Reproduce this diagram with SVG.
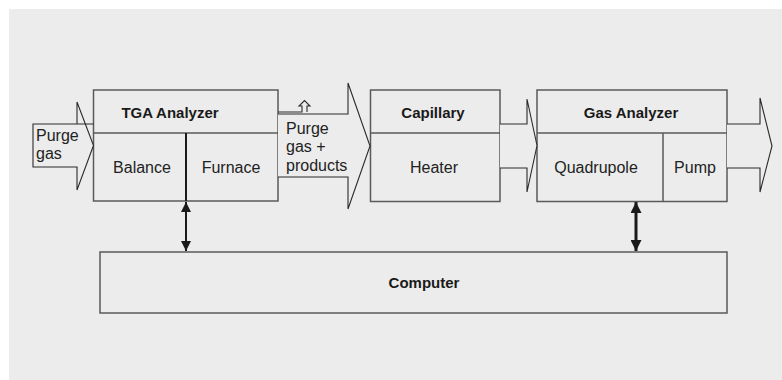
<svg xmlns="http://www.w3.org/2000/svg" width="782" height="380" viewBox="0 0 782 380">
  <defs>
    <style>
      .bg { fill: #ffffff; }
      .panel { fill: #ececec; }
      .box { fill: #ececec; stroke: #5a5a5a; stroke-width: 1.5; }
      .div { stroke: #5a5a5a; stroke-width: 1.5; fill: none; }
      .flow { fill: #ececec; stroke: #2a2a2a; stroke-width: 1.1; stroke-linejoin: miter; }
      .vent { fill: #ececec; stroke: #2a2a2a; stroke-width: 1.1; }
      .link { stroke: #1a1a1a; fill: none; }
      .t { font-family: "Liberation Sans", Arial, sans-serif; font-size: 16px; fill: #222; }
      .b { font-family: "Liberation Sans", Arial, sans-serif; font-size: 15px; font-weight: bold; fill: #1a1a1a; }
      .c { text-anchor: middle; }
    </style>
    <marker id="ah" viewBox="0 0 10 10" refX="10" refY="5" markerWidth="10" markerHeight="10" markerUnits="userSpaceOnUse" orient="auto-start-reverse">
      <path d="M0,0 L10,5 L0,10 Z" fill="#1a1a1a"/>
    </marker>
    <marker id="ah2" viewBox="0 0 10 10" refX="10" refY="5" markerWidth="11" markerHeight="11" markerUnits="userSpaceOnUse" orient="auto-start-reverse">
      <path d="M0,0 L10,5 L0,10 Z" fill="#1a1a1a"/>
    </marker>
  </defs>

  <rect class="bg" x="0" y="0" width="782" height="380"/>
  <rect class="panel" x="9" y="9" width="773" height="371"/>

  <g id="tga">
    <rect class="box" x="93.5" y="90" width="184.5" height="111"/>
    <line class="div" x1="93.5" y1="133" x2="278" y2="133"/>
    <line x1="186" y1="133" x2="186" y2="201" stroke="#1a1a1a" stroke-width="2"/>
    <text class="b c" x="170" y="118">TGA Analyzer</text>
    <text class="t c" x="142" y="173">Balance</text>
    <text class="t c" x="231" y="173">Furnace</text>
  </g>

  <g id="capillary">
    <rect class="box" x="370.5" y="90" width="129.5" height="111.5"/>
    <line class="div" x1="370.5" y1="133" x2="500" y2="133"/>
    <text class="b c" x="433" y="118">Capillary</text>
    <text class="t c" x="434" y="173">Heater</text>
  </g>

  <g id="gas-analyzer">
    <rect class="box" x="537" y="90" width="190" height="111.5"/>
    <line class="div" x1="537" y1="133" x2="727" y2="133"/>
    <line class="div" x1="663" y1="133" x2="663" y2="201.5"/>
    <text class="b c" x="631" y="118">Gas Analyzer</text>
    <text class="t c" x="596" y="173">Quadrupole</text>
    <text class="t c" x="695" y="173">Pump</text>
  </g>

  <g id="computer">
    <rect class="box" x="100" y="252" width="627" height="61"/>
    <text class="b c" x="424" y="288">Computer</text>
  </g>

  <g id="connectors">
    <g id="flow-in">
      <path class="flow" d="M93.5,124 H33 V167 H77 V190 L93.5,145.5 L77,102 V124"/>
      <text class="t" x="36" y="141">Purge</text>
      <text class="t" x="36" y="159">gas</text>
    </g>
    <g id="flow-tga-cap">
      <path class="flow" d="M278,114 H348 V83 L370,146 L348,209 V177 H278"/>
      <text class="t" x="286" y="134">Purge</text>
      <text class="t" x="286" y="152">gas +</text>
      <text class="t" x="286" y="171">products</text>
    </g>
    <path id="vent" class="vent" d="M278,112 H302 V106 H299 L304.5,100.5 L310,106 H307 V112"/>
    <path id="flow-cap-ga" class="flow" d="M500,124 H527 V99 L537,145.5 L527,192 V168 H500"/>
    <path id="flow-out" class="flow" d="M727,124 H760 V98 L772,146 L760,192 V168 H727"/>
    <line id="link-tga" class="link" x1="186" y1="202" x2="186" y2="251" stroke-width="2" marker-start="url(#ah)" marker-end="url(#ah)"/>
    <line id="link-ga" class="link" x1="636" y1="202" x2="636" y2="251" stroke-width="3" marker-start="url(#ah2)" marker-end="url(#ah2)"/>
  </g>
</svg>
